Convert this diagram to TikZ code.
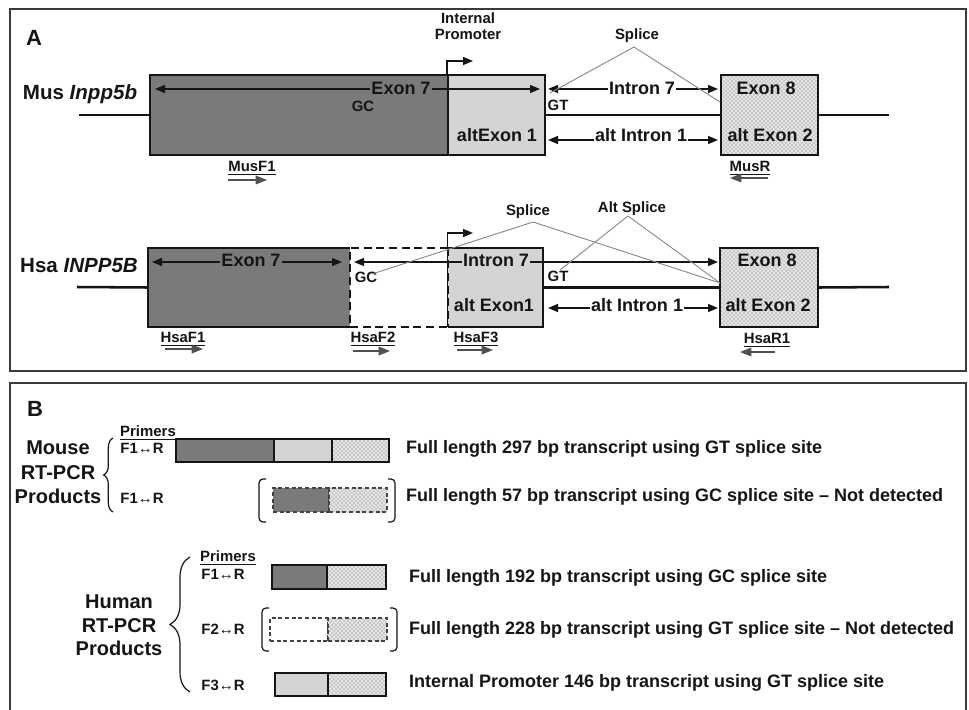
\documentclass[tikz,border=0pt]{standalone}
\usepackage{fontspec}
\setmainfont{Liberation Sans}
\usetikzlibrary{arrows.meta,patterns,fit,decorations.pathreplacing,calc}
\definecolor{exdark}{HTML}{7A7A7A}
\definecolor{exlight}{HTML}{D4D4D4}
\definecolor{framec}{HTML}{3A3A3A}
\definecolor{ink}{HTML}{151515}
\definecolor{splc}{HTML}{8A8A8A}
\definecolor{dotbg}{HTML}{E4E4E4}
\definecolor{dotfg}{HTML}{707070}
\newcommand\FntMain{\fontsize{13.5pt}{16pt}\selectfont}
\newcommand\FntSmall{\fontsize{11.2pt}{12pt}\selectfont}
\newcommand\FntGene{\fontsize{15.4pt}{18pt}\selectfont}
\newcommand\FntHead{\fontsize{16.5pt}{19pt}\selectfont}
\begin{document}
\begin{tikzpicture}[x=0.75pt,y=-0.75pt,
  every node/.style={text=ink},
  lbl/.style={inner sep=0.6pt, text height=0.72em, text depth=0pt, font=\bfseries\FntMain},
  sml/.style={lbl, font=\bfseries\FntSmall},
  gene/.style={lbl, font=\bfseries\FntGene},
  dotfill/.style={preaction={fill=dotbg}, pattern=crosshatch dots, pattern color=dotfg},
  exbox/.style={inner sep=0pt, draw=ink, line width=1.5pt},
  darkex/.style={exbox, fill=exdark},
  lightex/.style={exbox, fill=exlight},
  dotex/.style={exbox, dotfill},
  bb/.style={draw=ink, line width=1.9pt},
  arr/.style={draw=ink, line width=1pt, -{Triangle[length=7.5pt,width=6pt]}},
  parr/.style={draw=ink!75, line width=0.8pt, -{Triangle[length=8.5pt,width=6.5pt]}},
  spl/.style={draw=splc, line width=0.7pt},
  framebox/.style={draw=framec, line width=1.6pt},
  brk/.style={draw=ink, line width=0.9pt, rounded corners=3pt},
  brc/.style={draw=ink, line width=0.9pt, decorate},
  barbox/.style={inner sep=0pt, draw=ink, line width=1.2pt},
  dashbar/.style={inner sep=0pt, draw=ink!80, line width=0.9pt, densely dashed}
]
\fill[white] (0,0) rectangle (969,709);
\useasboundingbox (0,0) rectangle (969,709);

% ---------------- Panel A ----------------
\node[framebox, inner sep=0pt, fit={(10,9)(966,371)}] (panA) {};
\node[lbl, font=\bfseries\FntHead] (labA) at (34,41) {A};

% Mouse row
\coordinate (bm0) at (79,115);
\coordinate (bm1) at (889,115);
\node[darkex, fit={(150,75)(448,155)}] (e7m) {};
\node[lightex, fit={(448,75)(545,155)}] (a1m) {};
\node[dotex, fit={(721,75)(818,155)}] (e8m) {};
\draw[bb] (bm0) -- (e7m.west);
\draw[bb] (a1m.east) -- (e8m.west);
\draw[bb] (e8m.east) -- (bm1);

\node[gene] (mlab) at (80,95) {Mus \itshape Inpp5b};

\node[lbl] (te7m) at (401,90) {Exon 7};
\coordinate (e7mL) at (155,89);
\coordinate (e7mR) at (540,89);
\draw[arr] (te7m.west |- e7mL) -- (e7mL);
\draw[arr] (te7m.east |- e7mR) -- (e7mR);
\node[sml] (gcm) at (363,107) {GC};

\node[sml, align=center, font=\bfseries\fontsize{11.2pt}{12pt}\selectfont] (ipm) at (468,35) {Internal\\Promoter};
\coordinate (pmT) at (473,61);
\draw[arr] (a1m.north west) |- (pmT);

\node[lbl] (ti7m) at (642,90) {Intron 7};
\coordinate (i7mL) at (548,89);
\coordinate (i7mR) at (718,89);
\draw[arr] (ti7m.west |- i7mL) -- (i7mL);
\draw[arr] (ti7m.east |- i7mR) -- (i7mR);
\node[sml] (gtm) at (558,106) {GT};

\node[lbl] (ta1m) at (497,137) {altExon 1};
\node[lbl] (tai1m) at (641,137) {alt Intron 1};
\coordinate (ai1mL) at (548,140);
\coordinate (ai1mR) at (718,140);
\draw[arr] (tai1m.west |- ai1mL) -- (ai1mL);
\draw[arr] (tai1m.east |- ai1mR) -- (ai1mR);

\node[lbl] (te8m) at (766,90) {Exon 8};
\node[lbl] (ta2m) at (770,137) {alt Exon 2};

\node[sml] (splm) at (637,35) {Splice};
\coordinate (splmA) at (634,47);
\coordinate (splmL) at (550,93);
\coordinate (splmR) at (720,102);
\draw[spl] (splmL) -- (splmA) -- (splmR);

\node[sml] (mf1) at (252,167) {\underline{MusF1}};
\coordinate (mf1a) at (228,180);
\coordinate (mf1b) at (267,180);
\draw[parr] (mf1a) -- (mf1b);
\node[sml] (mr) at (750,167) {\underline{MusR}};
\coordinate (mra) at (768,178);
\coordinate (mrb) at (730,178);
\draw[parr] (mra) -- (mrb);

% Human row
\coordinate (bh0) at (77,287);
\coordinate (bh1) at (889,287);
\node[inner sep=0pt, fill=exdark, fit={(148,248)(350,327)}] (e7h) {};
\draw[ink, line width=1.5pt] (e7h.north east) -- (e7h.north west) -- (e7h.south west) -- (e7h.south east);
\node[inner sep=0pt, fill=white, draw=ink, line width=1.5pt, dash pattern=on 6pt off 3.5pt, fit={(350,248)(448,327)}] (dh) {};
\node[inner sep=0pt, fill=exlight, fit={(448,248)(543,327)}] (a1h) {};
\draw[ink, line width=1.5pt] (a1h.north west) -- (a1h.north east) -- (a1h.south east) -- (a1h.south west);
\draw[ink, line width=1.5pt, dash pattern=on 6pt off 3.5pt] (a1h.north west) -- (a1h.south west);
\node[dotex, fit={(720,248)(818,327)}] (e8h) {};
\draw[bb] (bh0) -- (e7h.west);
\draw[bb] (a1h.east) -- (e8h.west);
\draw[bb] (e8h.east) -- (bh1);

\node[gene] (hlab) at (79,268) {Hsa \itshape INPP5B};

\node[lbl] (te7h) at (251,262) {Exon 7};
\coordinate (e7hL) at (152,262);
\coordinate (e7hR) at (342,262);
\draw[arr] (te7h.west |- e7hL) -- (e7hL);
\draw[arr] (te7h.east |- e7hR) -- (e7hR);

\node[lbl] (ti7h) at (496,262) {Intron 7};
\coordinate (i7hL) at (354,262);
\coordinate (i7hR) at (718,262);
\draw[arr] (ti7h.west |- i7hL) -- (i7hL);
\draw[arr] (ti7h.east |- i7hR) -- (i7hR);

\node[sml] (gch) at (366,278) {GC};
\node[sml] (gth) at (558,277) {GT};

\node[lbl] (ta1h) at (494,307) {alt Exon1};
\node[lbl] (tai1h) at (637,307) {alt Intron 1};
\coordinate (ai1hL) at (548,308);
\coordinate (ai1hR) at (718,308);
\draw[arr] (tai1h.west |- ai1hL) -- (ai1hL);
\draw[arr] (tai1h.east |- ai1hR) -- (ai1hR);

\node[lbl] (te8h) at (767,262) {Exon 8};
\node[lbl] (ta2h) at (768,307) {alt Exon 2};

\coordinate (phT) at (473,233);
\draw[arr] (a1h.north west) |- (phT);

\node[sml] (splh) at (528,211) {Splice};
\coordinate (splhA) at (533,222);
\coordinate (splhL) at (372,274);
\coordinate (splhR) at (720,283);
\draw[spl] (splhL) -- (splhA) -- (splhR);

\node[sml] (asplh) at (632,208) {Alt Splice};
\coordinate (asplhA) at (628,216);
\coordinate (asplhL) at (560,270);
\draw[spl] (asplhL) -- (asplhA) -- (splhR);

\node[sml] (hf1) at (183,338) {\underline{HsaF1}};
\coordinate (hf1a) at (165,349);
\coordinate (hf1b) at (203,349);
\draw[parr] (hf1a) -- (hf1b);
\node[sml] (hf2) at (373,338) {\underline{HsaF2}};
\coordinate (hf2a) at (353,351);
\coordinate (hf2b) at (390,351);
\draw[parr] (hf2a) -- (hf2b);
\node[sml] (hf3) at (476,338) {\underline{HsaF3}};
\coordinate (hf3a) at (457,350);
\coordinate (hf3b) at (493,350);
\draw[parr] (hf3a) -- (hf3b);
\node[sml] (hr1) at (767,339) {\underline{HsaR1}};
\coordinate (hr1a) at (775,352);
\coordinate (hr1b) at (740,352);
\draw[parr] (hr1a) -- (hr1b);

% ---------------- Panel B ----------------
\draw[framebox] (10,716) -- (10,383) -- (966,383) -- (966,716);
\node[lbl, font=\bfseries\FntHead] (labB) at (35,412) {B};

% Mouse products
\node[font=\bfseries\fontsize{15pt}{18.4pt}\selectfont, align=center, inner sep=0pt] (mouse) at (58,472.5) {Mouse\\RT-PCR\\Products};
\coordinate (mbrB) at (113,512);
\coordinate (mbrT) at (113,438);
\draw[brc, decoration={brace, amplitude=7pt}] (mbrB) -- (mbrT);
\node[sml] (mprim) at (148,432) {\underline{Primers}};
\node[sml] (mp1) at (142,449) {F1↔R};
\node[sml] (mp2) at (142,499) {F1↔R};

\node[barbox, fill=exdark, fit={(176,439)(274,462)}] (mb1a) {};
\node[barbox, fill=exlight, fit={(274,439)(332,462)}] (mb1b) {};
\node[barbox, dotfill, fit={(332,439)(389,462)}] (mb1c) {};
\node[lbl, anchor=west] (mt1) at (405,449) {Full length 297 bp transcript using GT splice site};

\node[dashbar, fill=exdark, fit={(273,488)(329,512)}] (mb2a) {};
\node[dashbar, dotfill, fit={(329,488)(387,512)}] (mb2b) {};
\coordinate (mk1) at (266,479);
\coordinate (mk2) at (259,479);
\coordinate (mk3) at (259,522);
\coordinate (mk4) at (266,522);
\draw[brk] (mk1) -- (mk2) -- (mk3) -- (mk4);
\coordinate (mk5) at (388,479);
\coordinate (mk6) at (395,479);
\coordinate (mk7) at (395,522);
\coordinate (mk8) at (388,522);
\draw[brk] (mk5) -- (mk6) -- (mk7) -- (mk8);
\node[lbl, anchor=west] (mt2) at (405,497) {Full length 57 bp transcript using GC splice site – Not detected};

% Human products
\node[font=\bfseries\fontsize{15pt}{17.6pt}\selectfont, align=center, inner sep=0pt] (human) at (119,625.5) {Human\\RT-PCR\\Products};
\coordinate (hbrB) at (190,692);
\coordinate (hbrT) at (190,557);
\draw[brc, decoration={brace, amplitude=15pt}] (hbrB) -- (hbrT);
\node[sml] (hprim) at (228,557) {\underline{Primers}};
\node[sml] (hp1) at (223,575) {F1↔R};
\node[sml] (hp2) at (223,630) {F2↔R};
\node[sml] (hp3) at (223,686) {F3↔R};

\node[barbox, fill=exdark, fit={(272,565)(327,589)}] (hb1a) {};
\node[barbox, dotfill, fit={(327,565)(386,589)}] (hb1b) {};
\node[lbl, anchor=west] (ht1) at (408,578) {Full length 192 bp transcript using GC splice site};

\node[dashbar, fill=white, fit={(270,618)(328,641)}] (hb2a) {};
\node[dashbar, dotfill, fit={(328,618)(387,641)}] (hb2b) {};
\coordinate (hk1) at (269,608);
\coordinate (hk2) at (262,608);
\coordinate (hk3) at (262,651);
\coordinate (hk4) at (269,651);
\draw[brk] (hk1) -- (hk2) -- (hk3) -- (hk4);
\coordinate (hk5) at (390,608);
\coordinate (hk6) at (397,608);
\coordinate (hk7) at (397,651);
\coordinate (hk8) at (390,651);
\draw[brk] (hk5) -- (hk6) -- (hk7) -- (hk8);
\node[lbl, anchor=west] (ht2) at (408,630) {Full length 228 bp transcript using GT splice site – Not detected};

\node[barbox, fill=exlight, fit={(275,673)(328,696)}] (hb3a) {};
\node[barbox, dotfill, fit={(328,673)(386,696)}] (hb3b) {};
\node[lbl, anchor=west] (ht3) at (408,683) {Internal Promoter 146 bp transcript using GT splice site};
\end{tikzpicture}
\end{document}
